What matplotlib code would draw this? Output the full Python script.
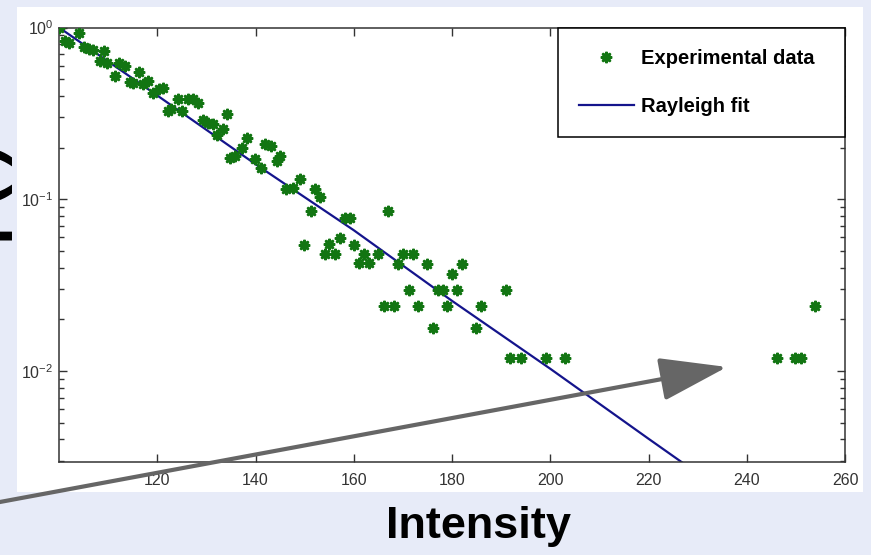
import matplotlib
matplotlib.use("Agg")
import matplotlib.pyplot as plt
from matplotlib.patches import Rectangle
from matplotlib.ticker import LogLocator, NullFormatter

# measured points (intensity, probability)
intensity = [
    100.1, 101.2, 102.1, 104.1, 105.1, 106.1, 107.0, 108.3, 109.2, 109.7,
    111.3, 112.2, 113.4, 114.4, 115.0, 116.3, 117.2, 118.2, 119.2, 120.4,
    121.2, 122.2, 122.9, 124.2, 125.0, 126.3, 127.2, 128.2, 129.3, 130.3,
    131.4, 132.2, 133.3, 134.1, 134.9, 135.9, 137.2, 138.2, 139.9, 141.2,
    141.9, 143.2, 144.3, 145.0, 146.3, 147.7, 149.0, 149.9, 151.2, 152.1,
    153.2, 154.1, 155.0, 156.2, 157.1, 158.2, 159.2, 160.0, 161.1, 162.1,
    163.2, 165.0, 166.2, 167.0, 168.2, 169.1, 170.0, 171.3, 172.0, 173.1,
    175.0, 176.1, 177.2, 178.2, 179.0, 179.9, 181.1, 182.0, 184.9, 186.0,
    191.0, 191.9, 194.0, 199.1, 203.1, 246.2, 249.8, 251.0, 253.9,
]
probability = [
    1.0, 0.834, 0.813, 0.925, 0.774, 0.753, 0.740, 0.641, 0.733, 0.625,
    0.520, 0.621, 0.594, 0.479, 0.473, 0.547, 0.471, 0.486, 0.413, 0.437,
    0.445, 0.328, 0.334, 0.382, 0.328, 0.383, 0.382, 0.363, 0.291, 0.278,
    0.275, 0.237, 0.256, 0.315, 0.173, 0.179, 0.199, 0.228, 0.172, 0.151,
    0.211, 0.205, 0.166, 0.178, 0.115, 0.117, 0.132, 0.0538, 0.0849, 0.115,
    0.103, 0.0483, 0.0546, 0.0483, 0.0597, 0.078, 0.078, 0.0538, 0.0423, 0.0483,
    0.0423, 0.0483, 0.024, 0.0849, 0.024, 0.042, 0.0483, 0.0298, 0.0483, 0.024,
    0.042, 0.0179, 0.0298, 0.0298, 0.024, 0.0365, 0.0298, 0.042, 0.0179, 0.024,
    0.0298, 0.0119, 0.0119, 0.0119, 0.0119, 0.0119, 0.0119, 0.0119, 0.024,
]

# Rayleigh fit
fit_intensity = [100, 120, 140, 160, 180, 200, 220, 228]
fit_probability = [1.0, 0.402, 0.160, 0.066, 0.0256, 0.0103, 0.00403, 0.00278]

x_ticks = [120, 140, 160, 180, 200, 220, 240, 260]
y_ticks = [0.01, 0.1, 1.0]

W, H = 871, 555


def fx(px):
    return px / W


def fy(py):
    return 1 - py / H


fig = plt.figure(figsize=(W / 100, H / 100), dpi=100)
fig.patch.set_facecolor("#e7ebf8")
fig.patches.append(Rectangle((fx(17), fy(492)), (863 - 17) / W, (492 - 7) / H,
                             transform=fig.transFigure, facecolor="white",
                             edgecolor="none", zorder=-5))

ax = fig.add_axes([fx(59), fy(462), (845 - 59) / W, (462 - 27.5) / H])
ax.plot(intensity, probability, linestyle="none", marker=(8, 1, 0), ms=8,
        mew=1.6, color="#127512", mec="#127512", label="Experimental data",
        zorder=3)
ax.plot(fit_intensity, fit_probability, color="#14148c", lw=1.6,
        label="Rayleigh fit", zorder=2)

ax.set_yscale("log")
ax.set_xlim(100, 260)
ax.set_ylim(0.00295, 1.0)
ax.set_xticks(x_ticks)
ax.set_yticks(y_ticks)
ax.yaxis.set_minor_locator(LogLocator(base=10, subs=range(2, 10)))
ax.yaxis.set_minor_formatter(NullFormatter())

ax.tick_params(which="both", direction="in", top=True, right=True,
               colors="#333333", labelsize=11.5, width=1)
ax.tick_params(which="major", length=6, pad=4)
ax.tick_params(which="minor", length=3.5)
ax.tick_params(axis="x", pad=8)
for lab in ax.get_xticklabels() + ax.get_yticklabels():
    lab.set_family("Liberation Sans")
for s in ax.spines.values():
    s.set_color("#333333")
    s.set_linewidth(1.1)

# legend box spans a fixed width, entries packed to the left
leg = ax.legend(loc="upper right", bbox_to_anchor=(0.635, 0.748, 0.365, 0.252),
                mode="expand", borderaxespad=0, fancybox=False,
                edgecolor="black", framealpha=1, labelspacing=1.45,
                handlelength=2.7, handletextpad=0.35, borderpad=1.05,
                prop={"family": "Liberation Sans", "weight": "bold", "size": 14.5})
leg.get_frame().set_linewidth(1.1)

fig.text(fx(478), fy(538), "Intensity", ha="center", va="baseline",
         fontsize=32.5, fontweight="bold", family="Liberation Sans")

# y label mostly cut off at the left edge of the slide
fig.text(fx(-4), fy(189.5), "p(I)", rotation=90, rotation_mode="anchor",
         ha="center", va="baseline", fontsize=47, fontweight="bold",
         family="Liberation Sans")

ax.annotate("", xy=(727, H - 367), xytext=(-20, H - 505.7),
            xycoords="figure pixels", textcoords="figure pixels",
            arrowprops=dict(arrowstyle="-|>,head_length=1.4,head_width=0.45",
                            mutation_scale=30, lw=3, color="#666666",
                            shrinkA=0, shrinkB=0),
            annotation_clip=False, zorder=10)

fig.savefig("out.png", dpi=100, facecolor=fig.get_facecolor())
